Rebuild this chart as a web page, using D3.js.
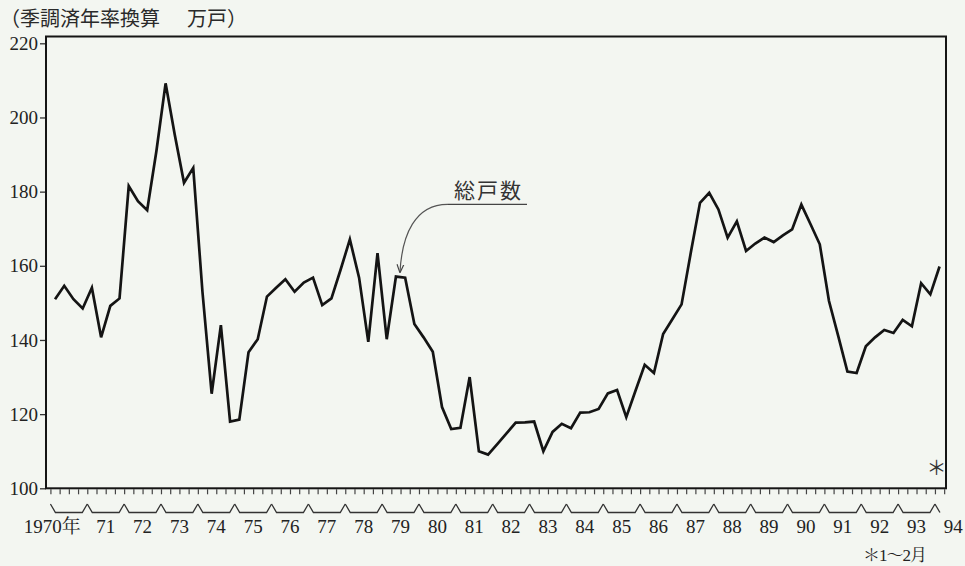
<!DOCTYPE html>
<html>
<head>
<meta charset="utf-8">
<script src="https://cdn.jsdelivr.net/npm/d3@7"></script>
<style>
  html, body { margin: 0; padding: 0; background: #f3f6f1; }
  svg { display: block; }
</style>
</head>
<body>
<svg id="chart"></svg>
<script>
var width = 965,
    height = 566;

// quarterly housing starts, seasonally adjusted annual rate (10,000 units), 1970 Q1 .. 1994 Q1
var startYear = 1970;
var housingStarts = [
  151.0, 154.6, 151.0, 148.5,   // 1970
  154.1, 140.7, 149.2, 151.2,   // 71
  181.5, 177.4, 175.0, 190.9,   // 72
  209.2, 195.3, 182.4, 186.4,   // 73
  153.0, 125.5, 144.0, 118.0,   // 74
  118.5, 136.7, 140.2, 151.7,   // 75
  154.1, 156.4, 153.0, 155.5,   // 76
  156.8, 149.4, 151.2, 159.0,   // 77
  167.1, 156.8, 139.5, 163.4,   // 78
  140.2, 157.1, 156.8, 144.3,   // 79
  140.7, 136.8, 121.9, 116.0,   // 80
  116.3, 130.0, 110.0, 109.1,   // 81
  111.9, 114.8, 117.7, 117.8,   // 82
  118.0, 110.0, 115.2, 117.4,   // 83
  116.2, 120.4, 120.5, 121.4,   // 84
  125.6, 126.5, 119.2, 126.3,   // 85
  133.3, 131.1, 141.6, 145.6,   // 86
  149.6, 163.5, 177.0, 179.7,   // 87
  175.2, 167.6, 172.0, 164.0,   // 88
  166.0, 167.6, 166.4, 168.2,   // 89
  169.8, 176.5, 171.2, 165.8,   // 90
  150.5, 141.1, 131.5, 131.1,   // 91
  138.3, 140.7, 142.7, 141.9,   // 92
  145.4, 143.7, 155.3, 152.3,   // 93
  159.8                         // 94 (1-2月)
];
var yearLabels = ["1970", "71", "72", "73", "74", "75", "76", "77", "78", "79", "80", "81",
                  "82", "83", "84", "85", "86", "87", "88", "89", "90", "91", "92", "93", "94"];
var yTicks = [100, 120, 140, 160, 180, 200, 220];

var serif = "'Liberation Serif', 'Noto Serif CJK JP', 'Noto Sans CJK JP', serif",
    gothic = "'Noto Sans CJK JP', sans-serif";

var svg = d3.select("#chart").attr("width", width).attr("height", height);

// plot frame edges (window.top is reserved, so no "top" here)
var fLeft = 46, fRight = 946, fTop = 36.5, fBottom = 488.3;

var x = d3.scaleLinear().domain([1969.88, 1994.30]).range([fLeft, fRight]);
var y = d3.scaleLinear().domain([100, 220]).range([fBottom, 43.3]);

// title / unit
svg.append("text")
    .attr("x", 0).attr("y", 25.5)
    .style("font-family", gothic).style("font-size", "20px").style("fill", "#2a2a2a")
    .text("（季調済年率換算")
  .append("tspan")
    .attr("x", 187)
    .text("万戸）");

// quarter ticks under the base line
var quarters = d3.range(0, 98).map(function(q) { return startYear + q / 4; });
var xAxis = svg.append("g")
    .attr("transform", "translate(0," + (fBottom + 1) + ")")
    .call(d3.axisBottom(x).tickValues(quarters).tickSize(5).tickFormat(""));
xAxis.select(".domain").remove();
xAxis.selectAll(".tick line").attr("stroke", "#444").attr("stroke-width", 1.2);

// year brackets  \___/\___/ ...
var years = d3.range(startYear, 1994);
svg.append("g").selectAll("path")
    .data(years)
    .enter().append("path")
    .attr("d", function(d) {
      var x0 = Math.max(x(d), fLeft), x1 = x(d + 1);
      return "M" + x0 + ",504L" + (x0 + 5) + ",512.5L" + (x1 - 5) + ",512.5L" + x1 + ",504";
    })
    .attr("fill", "none").attr("stroke", "#333").attr("stroke-width", 1.3);
svg.append("path")
    .attr("d", "M" + x(1994) + ",504L" + (x(1994) + 5) + ",512.5")
    .attr("fill", "none").attr("stroke", "#333").attr("stroke-width", 1.3);

// year labels
svg.append("g").selectAll("text")
    .data(yearLabels)
    .enter().append("text")
    .attr("x", function(d, i) { return i === 0 ? x(startYear + 0.5) + 12 : x(startYear + i + 0.5); })
    .attr("y", 533)
    .attr("text-anchor", function(d, i) { return i === 0 ? "end" : "middle"; })
    .style("font-family", serif).style("font-size", "19px").style("fill", "#222")
    .text(function(d, i) { return i === 0 ? d + "年" : d; });

// y axis
var yAxis = svg.append("g")
    .attr("transform", "translate(" + fLeft + ",0)")
    .call(d3.axisLeft(y).tickValues(yTicks).tickSize(6).tickPadding(2));
yAxis.select(".domain").remove();
yAxis.selectAll(".tick line").attr("stroke", "#333").attr("stroke-width", 1.3);
yAxis.selectAll(".tick text")
    .style("font-family", serif).style("font-size", "19px").style("fill", "#222");

// frame
svg.append("rect")
    .attr("x", fLeft).attr("y", fTop)
    .attr("width", fRight - fLeft).attr("height", fBottom - fTop)
    .attr("fill", "none").attr("stroke", "#151515").attr("stroke-width", 2);

// data line
var line = d3.line()
    .x(function(d, i) { return x(startYear + (i + 0.5) / 4); })
    .y(function(d) { return y(d); });

svg.append("path")
    .datum(housingStarts)
    .attr("d", line)
    .attr("fill", "none")
    .attr("stroke", "#141414")
    .attr("stroke-width", 2.7)
    .attr("stroke-linejoin", "miter");

// annotation 総戸数 with curved arrow
svg.append("defs").append("marker")
    .attr("id", "arrow")
    .attr("viewBox", "0 0 10 10")
    .attr("refX", 9).attr("refY", 5)
    .attr("markerWidth", 7).attr("markerHeight", 7)
    .attr("orient", "auto")
  .append("path")
    .attr("d", "M0,1L10,5L0,9")
    .attr("fill", "none").attr("stroke", "#444").attr("stroke-width", 1.4);

svg.append("text")
    .attr("x", 454).attr("y", 198)
    .style("font-family", gothic).style("font-size", "21px")
    .style("letter-spacing", "2px").style("fill", "#333")
    .text("総戸数");
svg.append("line")
    .attr("x1", 448).attr("x2", 527).attr("y1", 204.3).attr("y2", 204.3)
    .attr("stroke", "#444").attr("stroke-width", 1.2);
svg.append("path")
    .attr("d", "M448,204.3C415,204 402,235 400,272")
    .attr("fill", "none").attr("stroke", "#555").attr("stroke-width", 1.2)
    .attr("marker-end", "url(#arrow)");

// note mark
svg.append("text")
    .attr("x", 936.5).attr("y", 475)
    .attr("text-anchor", "middle")
    .style("font-family", gothic).style("font-size", "20px").style("fill", "#333")
    .text("＊");
svg.append("text")
    .attr("x", 863).attr("y", 561)
    .style("font-family", serif).style("font-size", "17px")
    .style("letter-spacing", "-1px").style("fill", "#222")
    .text("＊1～2月");
</script>
</body>
</html>
